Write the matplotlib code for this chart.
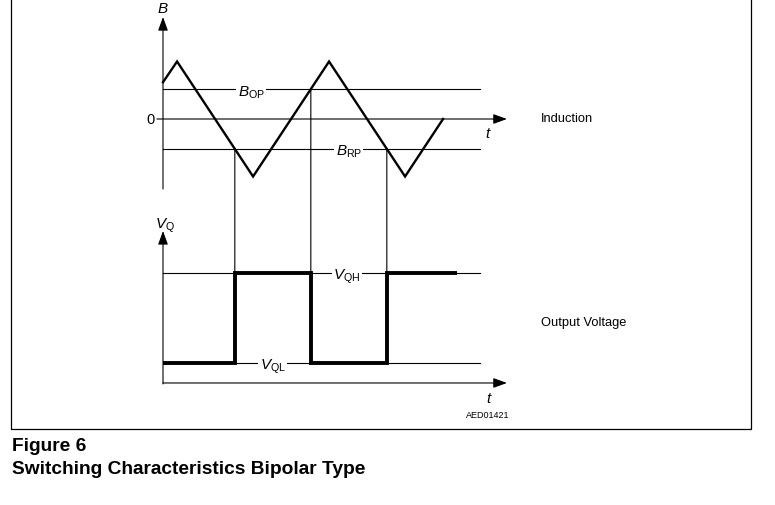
import matplotlib
matplotlib.use("Agg")
import matplotlib.pyplot as plt
import numpy as np
from matplotlib.patches import ConnectionPatch, Rectangle

plt.rcParams['font.family'] = ['Liberation Sans', 'DejaVu Sans']
plt.rcParams['mathtext.fontset'] = 'custom'
plt.rcParams['mathtext.rm'] = 'Liberation Sans'
plt.rcParams['mathtext.it'] = 'Liberation Sans:italic'

side_fs = 9.3

# ---- data (arbitrary units) ----
t_tri = [0.0, 0.37, 2.37, 4.37, 6.37, 7.37]     # triangle-wave vertices (time)
B_tri = [0.64, 1.0, -1.0, 1.0, -1.0, 0.0]       # induction at vertices
B_OP = 0.52                                     # operate point
B_RP = -0.52                                    # release point
V_QH = 1.0
V_QL = 0.0
t_end_square = 7.74
t_end_lines = 8.34
t_arrow = 9.05

# switching instants from the triangle wave (bipolar latch)
tt = np.linspace(t_tri[0], t_tri[-1], 20001)
bb = np.interp(tt, t_tri, B_tri)
state = V_QL
sw_t, sw_lvl, out_t, out_v = [], [], [tt[0]], [state]
for i in range(1, len(tt)):
    if state == V_QL and bb[i] <= B_RP < bb[i - 1]:
        sw_t.append(tt[i]); sw_lvl.append(B_RP); state = V_QH
        out_t += [tt[i], tt[i]]; out_v += [V_QL, V_QH]
    elif state == V_QH and bb[i] >= B_OP > bb[i - 1]:
        sw_t.append(tt[i]); sw_lvl.append(B_OP); state = V_QL
        out_t += [tt[i], tt[i]]; out_v += [V_QH, V_QL]
out_t.append(t_end_square); out_v.append(state)

W, H = 775, 506
fig = plt.figure(figsize=(W / 100, H / 100), dpi=100)

px_per_t = 38.0
x0 = 163.0
xlim = (-x0 / px_per_t, (W - x0) / px_per_t)

# top axes: pixel rows 0..200, B=0 at row 120, 57.5 px per unit
axT = fig.add_axes([0, 1 - 200 / H, 1, 200 / H])
axT.set_xlim(*xlim)
axT.set_ylim((120 - 200) / 57.5, 120 / 57.5)
# bottom axes: pixel rows 200..440, V_QL at row 364, 90 px per unit
axB = fig.add_axes([0, 1 - 440 / H, 1, 240 / H])
axB.set_xlim(*xlim)
axB.set_ylim((364 - 440) / 90, (364 - 200) / 90)
for a in (axT, axB):
    a.axis('off')

thin = 0.8
arrow = dict(arrowstyle='-|>,head_length=0.55,head_width=0.2', lw=thin,
             color='k', mutation_scale=15, shrinkA=0, shrinkB=0)
lab_fs = 11

# ---- top: induction ----
axT.annotate('', xy=(0, 1.774), xytext=(0, -1.217), arrowprops=arrow)
axT.annotate('', xy=(t_arrow, 0), xytext=(-0.16, 0), arrowprops=arrow)
axT.plot([0, t_end_lines], [B_OP, B_OP], color='k', lw=thin)
axT.plot([0, t_end_lines], [B_RP, B_RP], color='k', lw=thin)
axT.plot(t_tri, B_tri, color='k', lw=1.7, solid_joinstyle='miter')
axT.text(0, 1.93, '$B$', ha='center', va='center', fontsize=lab_fs)
axT.text(-0.22, 0, '0', ha='right', va='center', fontsize=10.5)
axT.text(8.55, -0.24, '$t$', ha='center', va='center', fontsize=lab_fs)
bb_white = dict(facecolor='white', edgecolor='none', pad=1.0)
axT.text(2.32, B_OP - 0.04, r'$B_{\mathrm{OP}}$', ha='center', va='center',
         fontsize=lab_fs, bbox=bb_white)
axT.text(4.89, B_RP - 0.04, r'$B_{\mathrm{RP}}$', ha='center', va='center',
         fontsize=lab_fs, bbox=bb_white)
axT.text(9.95, 0.02, 'Induction', ha='left', va='center', fontsize=side_fs)

# ---- bottom: output voltage ----
axB.annotate('', xy=(0, 1.467), xytext=(0, -0.233), arrowprops=arrow)
axB.annotate('', xy=(t_arrow, -0.222), xytext=(0, -0.222), arrowprops=arrow)
axB.plot([0, t_end_lines], [V_QH, V_QH], color='k', lw=thin)
axB.plot([0, t_end_lines], [V_QL, V_QL], color='k', lw=thin)
axB.plot(out_t, out_v, color='k', lw=2.8, solid_joinstyle='miter',
         solid_capstyle='butt')
axB.text(2.89, V_QL - 0.03, r'$V_{\mathrm{QL}}$', ha='center', va='center',
         fontsize=lab_fs, bbox=bb_white)
axB.text(4.84, V_QH - 0.03, r'$V_{\mathrm{QH}}$', ha='center', va='center',
         fontsize=lab_fs, bbox=bb_white)
axB.text(0.05, 1.54, r'$V_{\mathrm{Q}}$', ha='center', va='center',
         fontsize=lab_fs)
axB.text(8.58, -0.39, '$t$', ha='center', va='center', fontsize=lab_fs)
axB.text(8.55, -0.567, 'AED01421', ha='center', va='center', fontsize=6.5)
axB.text(9.95, 0.456, 'Output Voltage', ha='left', va='center',
         fontsize=side_fs)

# connectors between induction thresholds and output edges
for ts, lv in zip(sw_t, sw_lvl):
    cp = ConnectionPatch(xyA=(ts, lv), coordsA=axT.transData,
                         xyB=(ts, V_QH), coordsB=axB.transData,
                         color='k', lw=thin)
    fig.add_artist(cp)

# frame and caption
fig.add_artist(Rectangle((11 / W, 1 - 430 / H), 740 / W, 430 / H + 0.05,
                         transform=fig.transFigure, fill=False,
                         edgecolor='k', lw=0.9))
fig.text(12 / W, 1 - 447 / H, 'Figure 6', ha='left', va='center',
         fontsize=13.8, fontweight='bold')
fig.text(12 / W, 1 - 470 / H, 'Switching Characteristics Bipolar Type',
         ha='left', va='center', fontsize=13.8, fontweight='bold')

fig.savefig('out.png', dpi=100)
